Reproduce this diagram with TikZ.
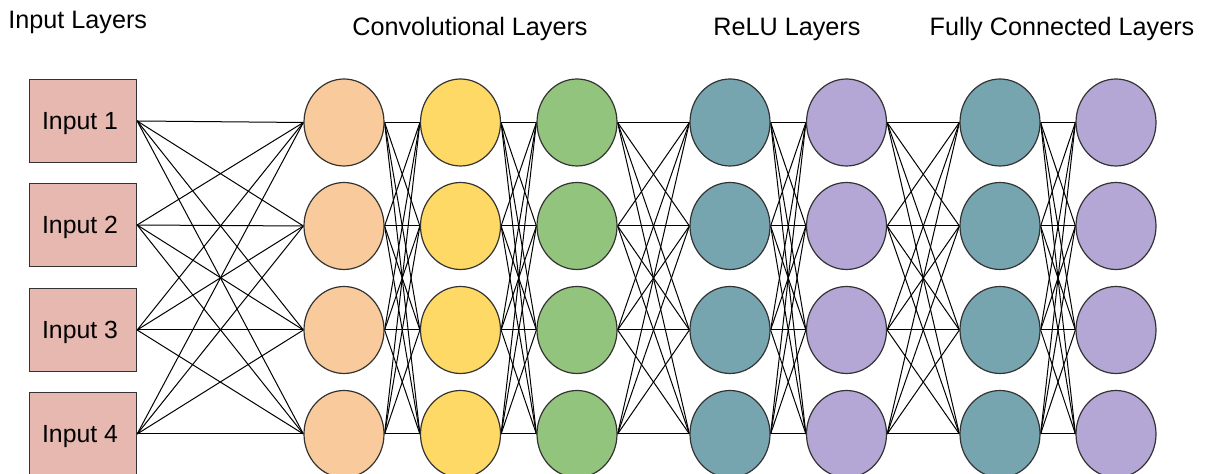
\documentclass[tikz,border=0pt]{standalone}
\usepackage{fontspec}
\setmainfont{Liberation Sans}
\usetikzlibrary{shapes.geometric,backgrounds}
\definecolor{inbox}{HTML}{E6B8AF}
\definecolor{corange}{HTML}{F9CB9C}
\definecolor{cyellow}{HTML}{FFD966}
\definecolor{cgreen}{HTML}{93C47D}
\definecolor{cteal}{HTML}{76A5AF}
\definecolor{cpurple}{HTML}{B4A7D6}
\definecolor{edgegray}{HTML}{333333}
\tikzset{
  inputbox/.style={draw=edgegray, line width=0.65pt, fill=inbox, minimum width=53.5pt,
    minimum height=41.5pt, inner sep=0pt, text depth=0pt, font=\fontsize{12.4}{14}\selectfont},
  neuron/.style={ellipse, draw=edgegray, line width=0.6pt, minimum width=40pt,
    minimum height=43.5pt, inner sep=0pt},
  layertitle/.style={font=\fontsize{12.6}{15}\selectfont, inner sep=0pt},
  link/.style={line width=0.5pt, black}
}
\begin{document}
\begin{tikzpicture}[x=0.5pt, y=-0.5pt]
\useasboundingbox (0,0) rectangle (1216,474);

% layer titles
\node[layertitle, anchor=base west] (t0) at (8,29) {Input Layers};
\node[layertitle, anchor=base] (t1) at (470,36) {Convolutional Layers};
\node[layertitle, anchor=base] (t2) at (787,36) {ReLU Layers};
\node[layertitle, anchor=base] (t3) at (1062,36) {Fully Connected Layers};

% input boxes (label sits a little left of centre)
\foreach \i/\y in {1/121,2/225,3/330,4/434}
  \node[inputbox] (in\i) at (83,\y) {Input \i\kern3pt};

% neuron columns
\foreach \c/\x/\col in {1/344/corange,2/460.5/cyellow,3/577/cgreen,4/730/cteal,5/846.5/cpurple,6/1000/cteal,7/1116/cpurple}
  \foreach \i/\y in {1/122.5,2/226,3/330,4/434}
    \node[neuron, fill=\col] (n\c-\i) at (\x,\y) {};

% full connections between consecutive layers
\begin{scope}[on background layer]
  \foreach \i in {1,...,4}
    \foreach \j in {1,...,4}
      \draw[link] (in\i.east) -- (n1-\j.west);
  \foreach \c [evaluate=\c as \d using int(\c+1)] in {1,...,6}
    \foreach \i in {1,...,4}
      \foreach \j in {1,...,4}
        \draw[link] (n\c-\i.east) -- (n\d-\j.west);
\end{scope}
\end{tikzpicture}
\end{document}
